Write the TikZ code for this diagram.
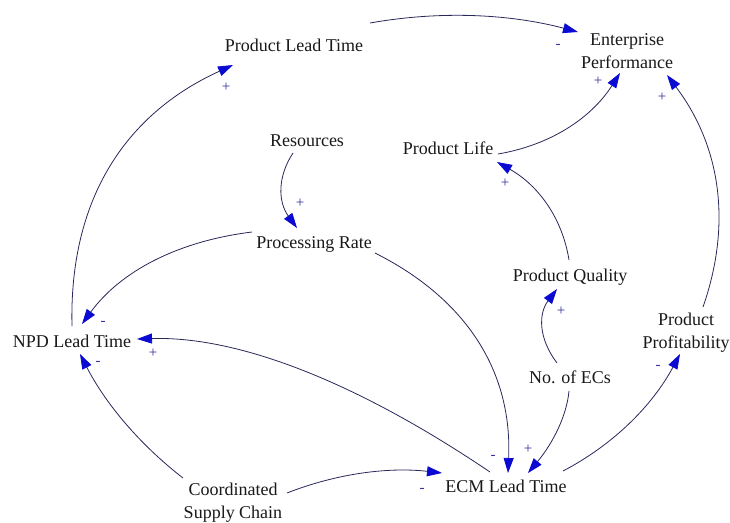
\documentclass[tikz,border=0pt]{standalone}
\usepackage{fontspec}
\setmainfont{Liberation Serif}
\usetikzlibrary{arrows.meta,calc}
\definecolor{linkcol}{RGB}{40,40,90}
\definecolor{headcol}{RGB}{10,10,210}
\definecolor{signcol}{RGB}{50,50,160}
\definecolor{textcol}{RGB}{25,25,25}

\begin{document}
\begin{tikzpicture}[x=1pt,y=-1pt,
  var/.style={font=\fontsize{18}{23}\selectfont, text=textcol, inner sep=1pt,
              text height=12.5pt, text depth=0pt},
  var2/.style={font=\fontsize{18}{23}\selectfont, text=textcol, inner sep=1pt, align=center},
  link/.style={draw=linkcol, line width=0.8pt,
               -{Triangle[length=15pt,width=10pt,color=headcol,fill=headcol]}},
  sign/.style={font=\fontsize{15}{15}\selectfont, text=signcol, inner sep=0pt}]

% canvas
\fill[white] (0,0) rectangle (730,522);
\useasboundingbox (0,0) rectangle (730,522);

% variables
\node[var]  (plt) at (294,45)  {Product Lead Time};
\node[var2] (ep)  at (627,51)  {Enterprise\\Performance};
\node[var]  (res) at (307,140) {Resources};
\node[var]  (pr)  at (314,242) {Processing Rate};
\node[var]  (pl)  at (448,148) {Product Life};
\node[var]  (pq)  at (570,275) {Product Quality};
\node[var2] (pp)  at (686,333) {Product\\Profitability};
\node[var]  (ecs) at (570,377) {No. of ECs};
\node[var]  (ecm) at (506,486) {ECM Lead Time};
\node[var]  (npd) at (72,341)  {NPD Lead Time};
\node[var2] (csc) at (233,503) {Coordinated\\Supply Chain};

% causal links
\draw[link] ($(plt)+(76,-22)$) .. controls (439.3,10.7) and (508.7,13.7) .. ($(ep)+(-49,-19)$);
\draw[link] ($(npd)+(0,-15)$) .. controls (69,202.3) and (122.7,115.3) .. ($(plt)+(-61,20)$);
\draw[link] ($(res)+(-14,13)$) .. controls (277,177.3) and (278.3,202.3) .. ($(pr)+(-17,-14)$);
\draw[link] ($(pr)+(-62,-10)$) .. controls (176.7,241.3) and (120,272) .. ($(npd)+(10,-17)$);
\draw[link] ($(pr)+(61,11)$) .. controls (468,299.7) and (512.3,373) .. ($(ecm)+(2,-13)$);
\draw[link] ($(ecm)+(-16,-14)$) .. controls (354.3,380.3) and (236.7,336) .. ($(npd)+(65,-2)$);
\draw[link] ($(csc)+(-50,-25)$) .. controls (140,444.7) and (105.7,404) .. ($(npd)+(8,13)$);
\draw[link] ($(csc)+(54,-10)$) .. controls (338,473) and (389.7,467) .. ($(ecm)+(-64,-13)$);
\draw[link] ($(ecs)+(-1,14)$) .. controls (566.7,415.7) and (553,443) .. ($(ecm)+(22,-13)$);
\draw[link] ($(ecs)+(-13,-14)$) .. controls (538.3,338.3) and (538.3,313.7) .. ($(pq)+(-13,14)$);
\draw[link] ($(ecm)+(57,-15)$) .. controls (613.3,444.7) and (652.3,405.7) .. ($(pp)+(-6,21)$);
\draw[link] ($(pq)+(-1,-15)$) .. controls (562.3,218) and (538.3,185.3) .. ($(pl)+(49,14)$);
\draw[link] ($(pl)+(50,6)$) .. controls (550.7,145) and (591.3,118) .. ($(ep)+(-7,22)$);
\draw[link] ($(pp)+(17,-26)$) .. controls (732.3,223) and (720.3,145.7) .. ($(ep)+(40,24)$);

% link polarities
\node[sign] (s1)  at (558,46)  {-};
\node[sign] (s2)  at (226,87)  {+};
\node[sign] (s3)  at (300,203) {+};
\node[sign] (s4)  at (103,323) {-};
\node[sign] (s5)  at (493,457) {-};
\node[sign] (s6)  at (153,353) {+};
\node[sign] (s7)  at (98,363)  {-};
\node[sign] (s8)  at (422,490) {-};
\node[sign] (s9)  at (528,449) {+};
\node[sign] (s10) at (561,311) {+};
\node[sign] (s11) at (658,367) {-};
\node[sign] (s12) at (505,183) {+};
\node[sign] (s13) at (598,81)  {+};
\node[sign] (s14) at (662,97)  {+};
\end{tikzpicture}
\end{document}
